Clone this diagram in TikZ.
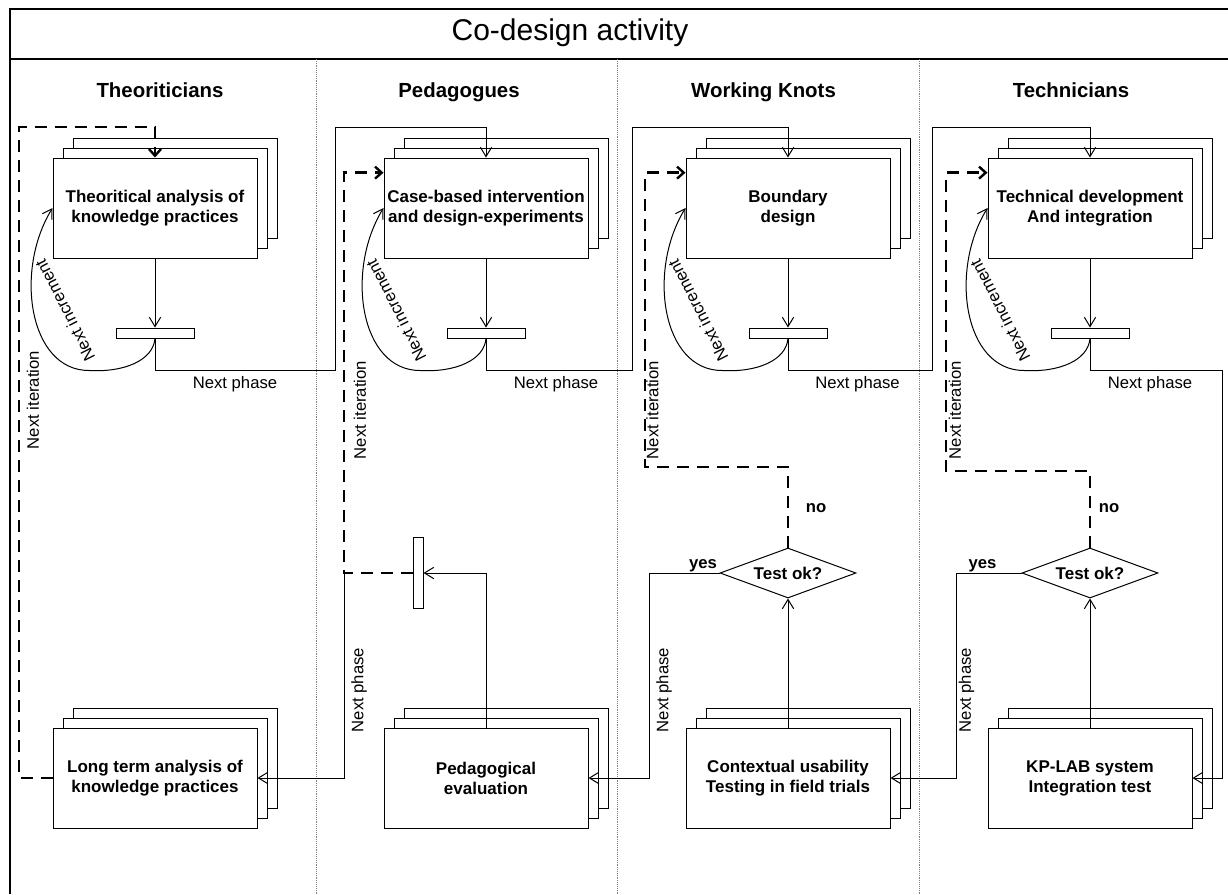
\documentclass[tikz,border=0pt]{standalone}
\usepackage{fontspec}
\setmainfont{Liberation Sans}
\usetikzlibrary{arrows.meta,shapes.geometric,shadows,calc}

\tikzset{every picture/.style={line width=0.75pt}}
\tikzset{
  proc/.style={draw, fill=white, minimum width=153pt, minimum height=75pt, inner sep=0pt, align=center,
    font=\fontsize{12.75}{15}\selectfont\bfseries,
    double copy shadow={shadow xshift=7.5pt, shadow yshift=7.5pt}},
  syncbar/.style={draw, fill=white, minimum width=58.5pt, minimum height=7.5pt, inner sep=0pt},
  joinbar/.style={draw, fill=white, minimum width=7.5pt, minimum height=53pt, inner sep=0pt},
  test/.style={diamond, draw, fill=white, aspect=2.7, minimum width=102pt, minimum height=37.5pt,
    inner sep=0pt, font=\fontsize{12.75}{15}\selectfont\bfseries},
  flow/.style={-{Straight Barb[length=7pt,width=8.5pt]}},
  iter/.style={line width=1.8pt, dash pattern=on 9pt off 6pt, -{Straight Barb[length=5pt,width=9pt]}},
  lbl/.style={font=\fontsize{12.5}{15}\selectfont, inner sep=0pt},
  yesno/.style={font=\fontsize{12.5}{15}\selectfont\bfseries, inner sep=0pt, anchor=base},
  lane/.style={font=\fontsize{15.3}{18}\selectfont\bfseries, inner sep=0pt, anchor=base}
}

\begin{document}
\begin{tikzpicture}[x=0.75pt,y=0.75pt,yscale=-1,xscale=1]
\useasboundingbox (0,0) rectangle (1228,894);

%Frame and lanes
\draw [line width=1.5pt] (10,894) -- (10,9) -- (1228,9) ;
\draw [line width=1pt] (10,59) -- (1228,59) ;
\foreach \x in {316,617.5,919.5}
  \draw [gray, densely dotted, line width=0.4pt] (\x,59) -- (\x,894) ;

\draw (570,40) node [anchor=base, inner sep=0pt, font=\fontsize{22.5}{27}\selectfont] (title) {Co-design activity};
\draw (160,97) node [lane] (lTheo) {Theoriticians};
\draw (459,97) node [lane] (lPed) {Pedagogues};
\draw (763.5,97) node [lane] (lWK) {Working Knots};
\draw (1071,97) node [lane] (lTech) {Technicians};

%Activities
\draw (155,208) node [proc] (theo) {Theoritical analysis of\\knowledge practices};
\draw (486,208) node [proc] (case) {Case-based intervention\\and design-experiments};
\draw (788,208) node [proc] (bound) {Boundary\\design};
\draw (1090,208) node [proc] (tech) {Technical development\\And integration};

\draw (155,778) node [proc] (longterm) {Long term analysis of\\knowledge practices};
\draw (486,778) node [proc] (pedeval) {Pedagogical\\evaluation};
\draw (788,778) node [proc] (ctxtest) {Contextual usability\\Testing in field trials};
\draw (1090,778) node [proc] (kptest) {KP-LAB system\\Integration test};

%Bars and tests
\draw (155,333) node [syncbar] (theoBar) {};
\draw (486,333) node [syncbar] (caseBar) {};
\draw (788,333) node [syncbar] (boundBar) {};
\draw (1090,333) node [syncbar] (techBar) {};
\draw (418,573) node [joinbar] (joinBar) {};
\draw (788,573) node [test] (testWK) {Test ok?};
\draw (1090,573) node [test] (testTech) {Test ok?};

\foreach \p/\b in {theo/theoBar, case/caseBar, bound/boundBar, tech/techBar} {
  \draw [flow] (\p.south) -- (\b.north) ;
  %Next increment loop
  \draw [flow] (\b.south) .. controls ($(\b.south)+(-2,22)$) and ($(\b.south)+(-31,34)$) .. ($(\b.south)+(-66,32)$)
    .. controls ($(\b.south)+(-126,32)$) and ($(\b.south)+(-141,-68)$) .. (\p.west) ;
  \draw ($(\b.south)+(-90,-28)$) node [lbl, rotate=117] {Next increment};
}

%Next phase
\draw [flow] (theoBar.south) |- (335,370) -- (335,127) -| (case.north) ;
\draw [flow] (caseBar.south) |- (632.5,370) -- (632.5,127) -| (bound.north) ;
\draw [flow] (boundBar.south) |- (932,370) -- (932,127) -| (tech.north) ;
\draw [flow] (techBar.south) |- (1222,370) |- (kptest.east) ;
\draw [flow] (kptest.north) -- (testTech.south) ;
\draw [flow] (ctxtest.north) -- (testWK.south) ;
\draw [flow] (testTech.west) -| (956.5,778) -- (ctxtest.east) ;
\draw [flow] (testWK.west) -| (649,778) -- (pedeval.east) ;
\draw [flow] (pedeval.north) |- (joinBar.east) ;
\coordinate (split) at (344,573) ;
\draw [flow] (split) |- (longterm.east) ;

%Next iteration
\draw [iter] (joinBar.west) -- (split) |- ($(case.north west)!.15!(case.south west)$) ;
\draw [iter] (testWK.north) |- (645,467) |- ($(bound.north west)!.15!(bound.south west)$) ;
\draw [iter] (testTech.north) |- (946,471) |- ($(tech.north west)!.15!(tech.south west)$) ;
\draw [iter] (longterm.west) -| (19,127) -| (theo.north) ;

%Labels
\draw (235,388) node [lbl, anchor=base] {Next phase};
\draw (556,388) node [lbl, anchor=base] {Next phase};
\draw (857.5,388) node [lbl, anchor=base] {Next phase};
\draw (1150,388) node [lbl, anchor=base] {Next phase};
\draw (359,690) node [lbl, rotate=90] {Next phase};
\draw (664,690) node [lbl, rotate=90] {Next phase};
\draw (966.5,690) node [lbl, rotate=90] {Next phase};
\draw (33,400) node [lbl, rotate=90] {Next iteration};
\draw (360,410) node [lbl, rotate=90] {Next iteration};
\draw (652.5,410) node [lbl, rotate=90] {Next iteration};
\draw (955,410) node [lbl, rotate=90] {Next iteration};
\draw (703,568) node [yesno] {yes};
\draw (982.5,568) node [yesno] {yes};
\draw (816,512) node [yesno] {no};
\draw (1109,512) node [yesno] {no};

\end{tikzpicture}
\end{document}
